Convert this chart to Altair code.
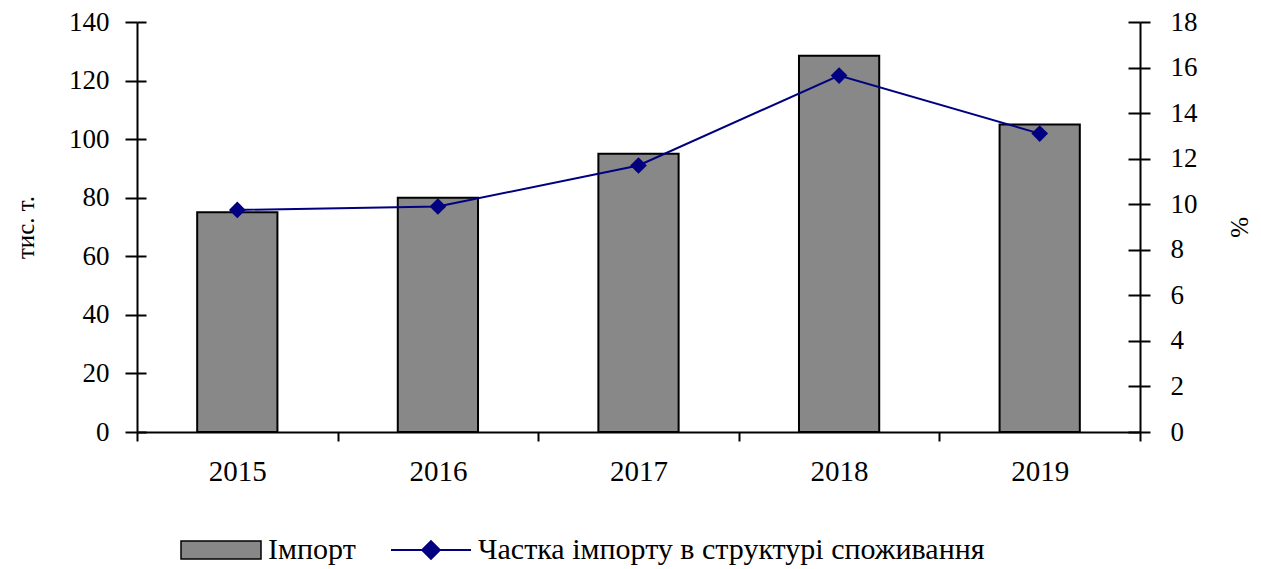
import altair as alt
import pandas as pd

years = ["2015", "2016", "2017", "2018", "2019"]
imports = [75, 80, 95, 128.5, 105]
share = [9.75, 9.9, 11.7, 15.65, 13.1]
bar_label = "Імпорт"
line_label = "Частка імпорту в структурі споживання"
left_ticks = [0, 20, 40, 60, 80, 100, 120, 140]
right_ticks = [0, 2, 4, 6, 8, 10, 12, 14, 16, 18]

df = pd.DataFrame({
    "year": years,
    "imports": imports,
    "share": share,
    "bar": [bar_label] * len(years),
    "line": [line_label] * len(years),
})

FONT = "Liberation Serif"
NAVY = "#000080"

x_enc = alt.X(
    "year:N",
    title=None,
    scale=alt.Scale(paddingInner=0, paddingOuter=0),
    axis=alt.Axis(labelAngle=0, tickBand="extent", tickSize=9, labelPadding=16),
)

left_scale = alt.Scale(domain=[0, 140], nice=False)
right_scale = alt.Scale(domain=[0, 18], nice=False)

bars = alt.Chart(df).mark_bar(stroke="black", strokeWidth=2, width=alt.RelativeBandSize(0.4)).encode(
    x=x_enc,
    y=alt.Y(
        "imports:Q",
        scale=left_scale,
        axis=alt.Axis(values=left_ticks, title="тис. т.", orient="left",
                      tickSize=12, labelPadding=16, titlePadding=30, labelFontSize=27),
    ),
    fill=alt.Fill(
        "bar:N",
        scale=alt.Scale(domain=[bar_label], range=["#888888"]),
        legend=alt.Legend(
            title=None, orient="none", legendX=43, legendY=487,
            symbolType="M-1,-0.225H1V0.225H-1Z", symbolSize=6400,
            symbolStrokeColor="black", symbolStrokeWidth=1.5, labelOffset=6,
        ),
    ),
)

line = alt.Chart(df).mark_line(strokeWidth=2).encode(
    x=x_enc,
    y=alt.Y(
        "share:Q",
        scale=right_scale,
        axis=alt.Axis(values=right_ticks, title="%", orient="right",
                      tickSize=10, labelPadding=20, titlePadding=28, labelFontSize=27),
    ),
    stroke=alt.Stroke(
        "line:N",
        scale=alt.Scale(domain=[line_label], range=[NAVY]),
        legend=alt.Legend(
            title=None, orient="none", legendX=253, legendY=487,
            symbolType="M-1,0H1M0,-0.22L0.22,0L0,0.22L-0.22,0Z", symbolSize=6400,
            symbolFillColor=NAVY, symbolStrokeWidth=2, labelOffset=6,
        ),
    ),
)

points = alt.Chart(df).mark_point(shape="diamond", filled=True, color=NAVY, size=280, opacity=1).encode(
    x=x_enc,
    y=alt.Y("share:Q", scale=right_scale,
            axis=alt.Axis(values=right_ticks, title=None, orient="right", offset=-12,
                          tickSize=12, labels=False, domain=False)),
)

# inner half of the left axis ticks (ticks cross the axis line)
left_inner = alt.Chart(df).mark_point(opacity=0).encode(
    x=x_enc,
    y=alt.Y("imports:Q", scale=left_scale,
            axis=alt.Axis(values=left_ticks, title=None, orient="left", offset=-9,
                          tickSize=9, labels=False, domain=False)),
)

chart = (
    alt.layer(bars, line, points, left_inner)
    .resolve_scale(y="independent")
    .properties(
        width=1003,
        height=410,
        autosize=alt.AutoSizeParams(type="none"),
        padding={"left": 129, "top": 14, "right": 113, "bottom": 140},
    )
    .configure(font=FONT)
    .configure_view(stroke=None)
    .configure_axis(
        labelFont=FONT, labelFontSize=29, labelColor="black",
        titleFont=FONT, titleFontSize=25, titleFontWeight="normal", titleColor="black",
        domainColor="black", domainWidth=2, tickColor="black", tickWidth=2,
        grid=False,
    )
    .configure_legend(
        labelFont=FONT, labelFontSize=30, labelColor="black", labelLimit=1000,
    )
)

chart.save("out.html", embed_options={"renderer": "svg", "actions": False})
